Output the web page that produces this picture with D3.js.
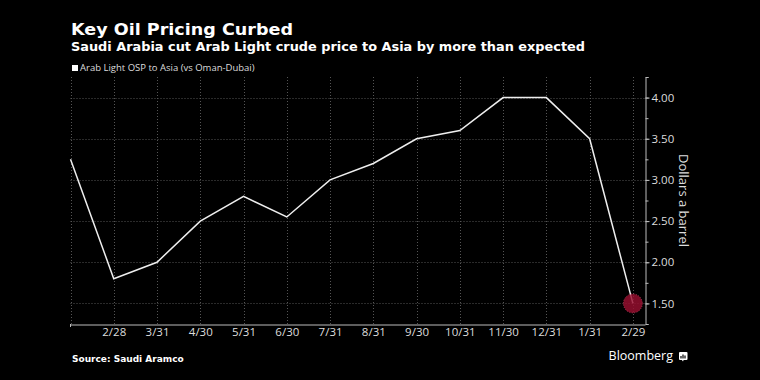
<!DOCTYPE html>
<html>
<head>
<meta charset="utf-8">
<script src="https://cdn.jsdelivr.net/npm/d3@7"></script>
<style>
  html, body { margin: 0; padding: 0; background: #000; }
  svg { display: block; }
  text { font-family: "Open Sans", "Liberation Sans", sans-serif; }
</style>
</head>
<body>
<svg id="chart" width="760" height="380"></svg>
<script>
// ---- Data ----
const dates = ["2023-01-31","2023-02-28","2023-03-31","2023-04-30","2023-05-31","2023-06-30",
               "2023-07-31","2023-08-31","2023-09-30","2023-10-31","2023-11-30","2023-12-31",
               "2024-01-31","2024-02-29"];
const values = [3.25, 1.80, 2.00, 2.50, 2.80, 2.55, 3.00, 3.20, 3.50, 3.60, 4.00, 4.00, 3.50, 1.50];
const xTickLabels = ["2/28","3/31","4/30","5/31","6/30","7/31","8/31","9/30","10/31","11/30","12/31","1/31","2/29"];
const yTickValues = [1.50, 2.00, 2.50, 3.00, 3.50, 4.00];
const yMinorTicks = [1.25, 1.50, 1.75, 2.00, 2.25, 2.50, 2.75, 3.00, 3.25, 3.50, 3.75, 4.00, 4.25];
const seriesName = "Arab Light OSP to Asia (vs Oman-Dubai)";

(function () {
const data = dates.map((d, i) => ({ idx: i, date: d, value: values[i] }));
const tickIdx = d3.range(1, dates.length);

const svg = d3.select("#chart");
const W = 760, H = 380;
svg.append("rect").attr("width", W).attr("height", H).attr("fill", "#000");

const pLeft = 70.5, pRight = 645, pTop = 77, pBottom = 324;

// Monthly observations evenly spaced; axis extends a little past the last month
const x = d3.scaleLinear()
  .domain([0, dates.length - 1 + 0.28])
  .range([pLeft, pRight]);
const y = d3.scaleLinear().domain([1.25, 4.25]).range([pBottom, pTop]);

// Grid
const grid = svg.append("g");
grid.selectAll("line.h").data(yTickValues).join("line")
  .attr("x1", pLeft).attr("x2", pRight)
  .attr("y1", d => Math.round(y(d)) + 0.5).attr("y2", d => Math.round(y(d)) + 0.5)
  .attr("stroke", "#555").attr("stroke-width", 1).attr("stroke-dasharray", "1,2");
grid.selectAll("line.v").data([0, ...tickIdx]).join("line")
  .attr("x1", d => Math.round(x(d)) + 0.5).attr("x2", d => Math.round(x(d)) + 0.5)
  .attr("y1", pTop).attr("y2", pBottom)
  .attr("stroke", "#555").attr("stroke-width", 1).attr("stroke-dasharray", "1,2");

// X axis
const xAxis = d3.axisBottom(x).tickValues(tickIdx)
  .tickFormat(d => xTickLabels[d - 1]).tickSize(0).tickPadding(3);
const gx = svg.append("g").attr("transform", `translate(0,${pBottom + 0.5})`).call(xAxis);
gx.select(".domain").attr("stroke", "#bbb");
gx.selectAll("text").attr("fill", "#ddd").attr("font-size", 11.5)
  .style("font-family", "'Open Sans', sans-serif");
svg.append("line").attr("x1", pLeft).attr("x2", pLeft).attr("y1", pBottom).attr("y2", pBottom + 3)
  .attr("stroke", "#bbb");

// Y axis (right)
const gyMinor = svg.append("g").attr("transform", `translate(${pRight + 0.5},0)`)
  .call(d3.axisRight(y).tickValues(yMinorTicks).tickSize(3).tickFormat(""));
gyMinor.select(".domain").attr("stroke", "#bbb");
gyMinor.selectAll("line").attr("stroke", "#bbb");
const gy = svg.append("g").attr("transform", `translate(${pRight + 0.5},0)`)
  .call(d3.axisRight(y).tickValues(yTickValues).tickSize(4).tickPadding(2).tickFormat(d3.format(".2f")));
gy.select(".domain").remove();
gy.selectAll("line").attr("stroke", "#bbb");
gy.selectAll("text").attr("fill", "#ddd").attr("font-size", 11.5)
  .style("font-family", "'Open Sans', sans-serif");

// Y axis title
svg.append("text")
  .attr("transform", `translate(679,${(pTop + pBottom) / 2}) rotate(90)`)
  .attr("text-anchor", "middle")
  .attr("fill", "#ddd").attr("font-size", 13)
  .text("Dollars a barrel");

// Line
const line = d3.line().x(d => x(d.idx)).y(d => y(d.value));
svg.append("path").datum(data).attr("d", line)
  .attr("fill", "none").attr("stroke", "#eee").attr("stroke-width", 1.5);

// Highlight last point
const last = data[data.length - 1];
svg.append("circle").attr("cx", x(last.idx)).attr("cy", y(last.value)).attr("r", 9.5)
  .attr("fill", "#9a0f30").attr("fill-opacity", 0.82)
  .attr("stroke", "#c04060").attr("stroke-width", 0.8).attr("stroke-dasharray", "1,1.5");

// Titles
svg.append("text").attr("x", 71).attr("y", 35)
  .attr("fill", "#fff").attr("font-size", 16.5).attr("font-weight", "bold")
  .style("font-family", "'DejaVu Sans', sans-serif")
  .attr("textLength", 222).attr("lengthAdjust", "spacingAndGlyphs")
  .text("Key Oil Pricing Curbed");
svg.append("text").attr("x", 71).attr("y", 50.5)
  .attr("fill", "#fff").attr("font-size", 11.8).attr("font-weight", "bold")
  .style("font-family", "'DejaVu Sans', sans-serif")
  .attr("textLength", 514).attr("lengthAdjust", "spacingAndGlyphs")
  .text("Saudi Arabia cut Arab Light crude price to Asia by more than expected");

// Legend
svg.append("rect").attr("x", 72).attr("y", 65).attr("width", 6).attr("height", 6).attr("fill", "#fff");
svg.append("text").attr("x", 80).attr("y", 71)
  .attr("fill", "#ddd").attr("font-size", 9.5)
  .text(seriesName);

// Footer
svg.append("text").attr("x", 72).attr("y", 361.5)
  .attr("fill", "#fff").attr("font-size", 9).attr("font-weight", "bold")
  .style("font-family", "'DejaVu Sans', sans-serif")
  .text("Source: Saudi Aramco");
svg.append("text").attr("x", 673).attr("y", 360).attr("text-anchor", "end")
  .attr("fill", "#fff").attr("font-size", 12.5)
  .text("Bloomberg");
const ic = svg.append("g").attr("transform", "translate(679,352)");
ic.append("rect").attr("width", 8.5).attr("height", 8).attr("rx", 1).attr("fill", "#fff");
ic.append("path").attr("d", "M2,7 L4,9.5 L5,7 Z").attr("fill", "#fff");
[[2, 4], [4, 2.5], [6, 3.5]].forEach(([bx, by]) => {
  ic.append("rect").attr("x", bx - 0.6).attr("y", by).attr("width", 1.2).attr("height", 6.5 - by).attr("fill", "#000");
});
})();
</script>
</body>
</html>
